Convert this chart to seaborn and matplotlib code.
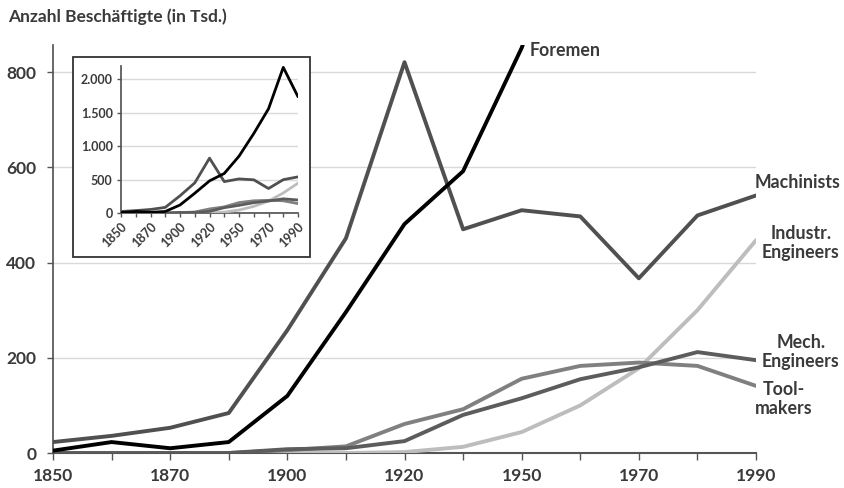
import numpy as np
import pandas as pd
import matplotlib
matplotlib.use('Agg')
import matplotlib.pyplot as plt
import seaborn as sns
from matplotlib.patches import Rectangle

# Beschäftigte in Tsd., nach Volkszählungsjahr
years = [1850, 1860, 1870, 1880, 1900, 1910, 1920, 1940, 1950, 1960, 1970, 1980, 1990]
shown_years = [1850, 1870, 1900, 1920, 1950, 1970, 1990]

machinists = [23, 36, 53, 84, 258, 451, 821, 470, 510, 497, 367, 499, 541]
foremen = [5, 23, 10, 23, 120, 296, 481, 592, 851, 1190, 1560, 2180, 1740]
industr_engineers = [0, 0, 0, 0, 0, 0, 2, 13, 44, 100, 178, 300, 447]
mech_engineers = [0, 0, 0, 0, 8, 10, 25, 80, 115, 155, 180, 212, 195]
toolmakers = [0, 0, 0, 0, 6, 14, 61, 92, 156, 183, 190, 183, 141]

series = {
    'Machinists': machinists,
    'Foremen': foremen,
    'Industr. Engineers': industr_engineers,
    'Mech. Engineers': mech_engineers,
    'Toolmakers': toolmakers,
}
colors = {
    'Machinists': '#505050',
    'Foremen': '#000000',
    'Industr. Engineers': '#bdbdbd',
    'Mech. Engineers': '#5c5c5c',
    'Toolmakers': '#808080',
}
draw_order = ['Industr. Engineers', 'Toolmakers', 'Mech. Engineers', 'Machinists', 'Foremen']

pos = np.arange(len(years))
df = pd.DataFrame([
    {'pos': p, 'year': y, 'group': name, 'value': v}
    for name, vals in series.items()
    for p, y, v in zip(pos, years, vals)
])

sns.set_theme(style='white')
plt.rcParams['font.family'] = ['Lato', 'DejaVu Sans']
text_col = '#3a3a3a'
axis_col = '#555555'

fig = plt.figure(figsize=(8.45, 4.88), dpi=100)
ax = fig.add_axes([0.0627, 0.0717, 0.832, 0.836])

tick_labels = [str(y) if y in shown_years else '' for y in years]


def draw_lines(axis, lw):
    for name in draw_order:
        sub = df[df['group'] == name]
        sns.lineplot(data=sub, x='pos', y='value', ax=axis, color=colors[name],
                     linewidth=lw, zorder=3, legend=False)
    axis.set_xlabel('')
    axis.set_ylabel('')
    axis.set_xticks(pos)
    axis.set_xlim(0, len(years) - 1)
    for s in ['top', 'right']:
        axis.spines[s].set_visible(False)
    for s in ['left', 'bottom']:
        axis.spines[s].set_color(axis_col)
        axis.spines[s].set_zorder(2)
    axis.grid(axis='y', color='#d9d9d9', linewidth=1, zorder=0)
    axis.set_axisbelow(True)


# main chart
draw_lines(ax, 2.8)
ax.set_ylim(0, 857)
ax.set_yticks([0, 200, 400, 600, 800])
ax.set_xticklabels(tick_labels, fontsize=12.5, fontweight='bold', color=text_col)
ax.tick_params(axis='y', labelsize=12.5, labelcolor=text_col, length=4, width=1,
               color=axis_col, left=True, pad=8)
ax.tick_params(axis='x', length=5, width=1, color=axis_col, bottom=True, pad=6)
for lab in ax.get_yticklabels():
    lab.set_fontweight('bold')
ax.spines['bottom'].set_linewidth(1.5)

fig.text(8 / 845, 1 - 17 / 488, 'Anzahl Beschäftigte (in Tsd.)', fontsize=12.5,
         fontweight='bold', color=text_col, va='center', ha='left')

label_kw = dict(fontsize=12.8, fontweight='bold', color=text_col, va='center',
                linespacing=1.2)
fig.text(530 / 845, 1 - 50 / 488, 'Foremen', ha='left', **label_kw)
fig.text(755 / 845, 1 - 183 / 488, 'Machinists', ha='left', **label_kw)
fig.text(801 / 845, 1 - 243 / 488, 'Industr.\nEngineers', ha='center', **label_kw)
fig.text(801 / 845, 1 - 352 / 488, 'Mech.\nEngineers', ha='center', **label_kw)
fig.text(784 / 845, 1 - 399 / 488, 'Tool-\nmakers', ha='center', **label_kw)

# inset with full range
frame = Rectangle((73 / 845, 1 - 257 / 488), 237 / 845, 200 / 488,
                  transform=fig.transFigure, facecolor='white', edgecolor='#333333',
                  linewidth=1.3, zorder=1)
fig.add_artist(frame)

ins = fig.add_axes([0.1432, 0.5635, 0.2095, 0.3012], zorder=2)
ins.patch.set_alpha(0)
draw_lines(ins, 2.0)
ins.set_ylim(0, 2200)
ins.set_yticks([0, 500, 1000, 1500, 2000])
ins.set_yticklabels(['0', '500', '1.000', '1.500', '2.000'], fontsize=9,
                    fontweight='bold', color=text_col)
ins.set_xticklabels(tick_labels, fontsize=9, fontweight='bold', color=text_col,
                    rotation=45, ha='right', rotation_mode='anchor')
ins.tick_params(axis='y', length=3, width=1, color=axis_col, left=True, pad=3)
ins.tick_params(axis='x', length=3, width=1, color=axis_col, bottom=True, pad=2)

fig.savefig('out.png', dpi=100)
